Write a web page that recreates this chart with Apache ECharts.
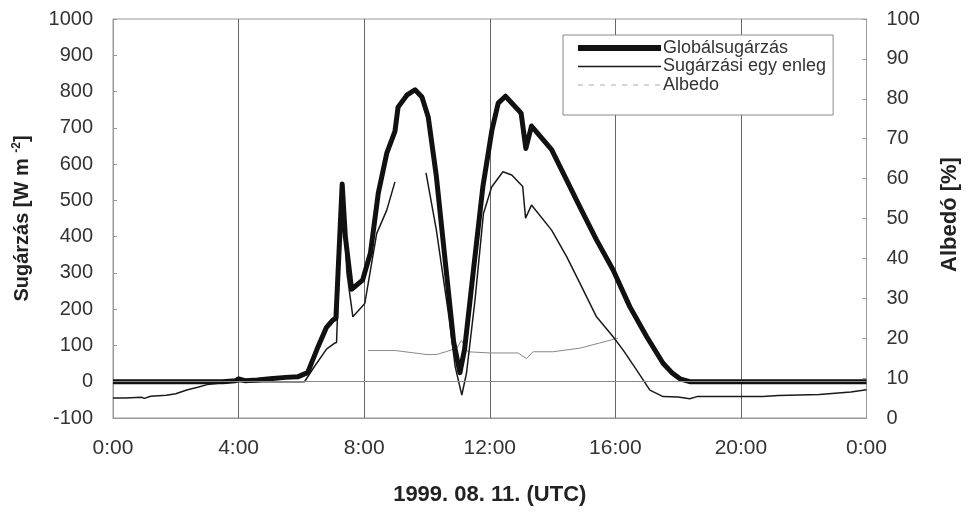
<!DOCTYPE html>
<html>
<head>
<meta charset="utf-8">
<script src="https://cdn.jsdelivr.net/npm/echarts@6/dist/echarts.min.js"></script>
<style>html,body{margin:0;padding:0;background:#fff;}#c{width:969px;height:512px;}</style>
</head>
<body>
<div id="c"></div>
<script>
// ---- data (hours UTC, values) ----
var xTicks = [0, 4, 8, 12, 16, 20, 24];
var globalHours  = [0, 3.5, 3.9, 4.0, 4.2, 4.6, 5.0, 5.5, 5.9, 6.2, 6.5, 6.8, 7.0, 7.1, 7.3, 7.4, 7.6, 7.95, 8.2, 8.45, 8.72, 8.98, 9.08, 9.36, 9.62, 9.84, 10.04, 10.3, 10.6, 10.85, 11.05, 11.2, 11.47, 11.78, 12.07, 12.27, 12.5, 12.9, 13.0, 13.15, 13.33, 13.97, 14.45, 14.87, 15.4, 15.93, 16.46, 17.0, 17.52, 17.8, 18.06, 18.37, 24];
var globalValues = [0, 0, 3, 8, 3, 5, 8, 12, 14, 25, 90, 150, 170, 175, 545, 400, 255, 280, 355, 520, 630, 690, 757, 790, 805, 785, 730, 566, 317, 110, 25, 90, 300, 537, 694, 768, 787, 750, 740, 643, 705, 640, 556, 482, 391, 308, 207, 124, 51, 25, 8, 0, 0];

var netHours  = [0, 0.4, 0.9, 1.0, 1.2, 1.7, 2.0, 2.35, 2.7, 3.0, 3.5, 4.0, 6.1, 6.4, 6.8, 7.05, 7.12, 7.3, 7.45, 7.64, 8.02, 8.4, 8.72, 8.98, 9.5, 9.97, 10.3, 10.7, 10.9, 11.11, 11.26, 11.53, 11.8, 12.06, 12.42, 12.7, 13.05, 13.14, 13.33, 13.97, 14.45, 14.87, 15.4, 15.93, 16.25, 16.68, 17.1, 17.52, 18.0, 18.37, 18.6, 20.7, 21.2, 22.5, 23.5, 24];
var netValues = [-45, -45, -43, -46, -40, -37, -33, -23, -15, -8, -3, 0, 0, 40, 90, 106, 108, 545, 300, 179, 216, 409, 473, 551, null, 576, 418, 179, 41, -37, 24, 225, 464, 537, 579, 570, 538, 451, 487, 418, 345, 272, 179, 124, 87, 32, -23, -41, -42, -47, -41, -41, -38, -35, -28, -22];

var albedoHours  = [8.12, 9.0, 9.6, 10.0, 10.3, 10.6, 10.95, 11.1, 11.3, 12.0, 12.9, 13.17, 13.38, 14.0, 14.87, 15.5, 16.08];
var albedoValues = [16.9, 16.9, 16.3, 15.9, 15.9, 16.6, 17.5, 19.5, 16.6, 16.3, 16.3, 14.9, 16.6, 16.6, 17.5, 18.8, 20.0];

var seriesNames = ['Globálsugárzás', 'Sugárzási egy enleg', 'Albedo'];

function pairs(xs, ys) { return xs.map(function (x, i) { return [x, ys[i]]; }); }

var FONT = '"Liberation Sans", Arial, sans-serif';
var chart = echarts.init(document.getElementById('c'), null, {renderer: 'canvas'});
chart.setOption({
  animation: false,
  backgroundColor: '#fff',
  grid: {left: 113, top: 19, width: 753.5, height: 399, show: true, borderColor: '#999', borderWidth: 1, containLabel: false},
  legend: {
    orient: 'vertical', left: 563, top: 35,
    padding: [4, 7, 21, 12],
    itemWidth: 83, itemHeight: 14, itemGap: 0.5,
    borderColor: '#888', borderWidth: 1, backgroundColor: '#fff',
    itemStyle: {opacity: 0},
    textStyle: {fontFamily: FONT, fontSize: 18, lineHeight: 17, color: '#333', padding: [0, 0, 0, -3]},
    data: [
      {name: seriesNames[0], lineStyle: {width: 6, color: '#111'}},
      {name: seriesNames[1], lineStyle: {width: 1.5, color: '#1a1a1a'}},
      {name: seriesNames[2], lineStyle: {type: [5, 6], color: '#aaa', width: 1}}
    ]
  },
  xAxis: {
    type: 'value', min: 0, max: 24, interval: 4,
    name: '1999. 08. 11. (UTC)', nameLocation: 'middle', nameGap: 66,
    nameTextStyle: {fontFamily: FONT, fontSize: 22, fontWeight: 'bold', color: '#222'},
    axisLine: {show: true, onZero: false, lineStyle: {color: '#999'}},
    axisTick: {show: false},
    axisLabel: {fontFamily: FONT, fontSize: 21, color: '#333', margin: 20,
      formatter: function (v) { return (v % 24) + ':00'; }},
    splitLine: {show: true, lineStyle: {color: '#666', width: 1}}
  },
  yAxis: [
    {
      type: 'value', min: -100, max: 1000, interval: 100, position: 'left',
      name: 'Sugárzás [W m {sup|-2}]', nameLocation: 'middle', nameGap: 80, nameRotate: 90,
      nameTextStyle: {fontFamily: FONT, fontSize: 20, fontWeight: 'bold', color: '#222',
        rich: {sup: {fontFamily: FONT, fontSize: 12, fontWeight: 'bold', color: '#222', verticalAlign: 'top', padding: [0, 0, 10, 0]}}},
      axisLine: {show: true, lineStyle: {color: '#999'}},
      axisTick: {show: true, inside: true, length: 4, lineStyle: {color: '#999'}},
      axisLabel: {fontFamily: FONT, fontSize: 20, color: '#333', margin: 20,
        formatter: function (v) { return String(v); }},
      splitLine: {show: false}
    },
    {
      type: 'value', min: 0, max: 100, interval: 10, position: 'right',
      name: 'Albedó [%]', nameLocation: 'middle', nameGap: 72, nameRotate: 90,
      nameTextStyle: {fontFamily: FONT, fontSize: 22, fontWeight: 'bold', color: '#222', padding: [0, 0, 0, 8]},
      axisLine: {show: true, lineStyle: {color: '#999'}},
      axisTick: {show: true, inside: true, length: 4, lineStyle: {color: '#999'}},
      axisLabel: {fontFamily: FONT, fontSize: 20, color: '#333', margin: 20,
        formatter: function (v) { return String(v); }},
      splitLine: {show: false}
    }
  ],
  series: [
    {
      name: seriesNames[2], type: 'line', yAxisIndex: 1, symbol: 'none', z: 2,
      data: pairs(albedoHours, albedoValues),
      lineStyle: {color: '#888', width: 1}
    },
    {
      name: seriesNames[1], type: 'line', yAxisIndex: 0, symbol: 'none', z: 3, connectNulls: false,
      data: pairs(netHours, netValues),
      lineStyle: {color: '#1a1a1a', width: 1.5},
      markLine: {silent: true, symbol: 'none', label: {show: false}, animation: false,
        lineStyle: {color: '#888', type: 'solid', width: 1}, data: [{yAxis: 0}]}
    },
    {
      name: seriesNames[0], type: 'line', yAxisIndex: 0, symbol: 'none', z: 4,
      data: pairs(globalHours, globalValues),
      lineStyle: {color: '#111', width: 5, join: 'round'}
    }
  ]
});
</script>
</body>
</html>
